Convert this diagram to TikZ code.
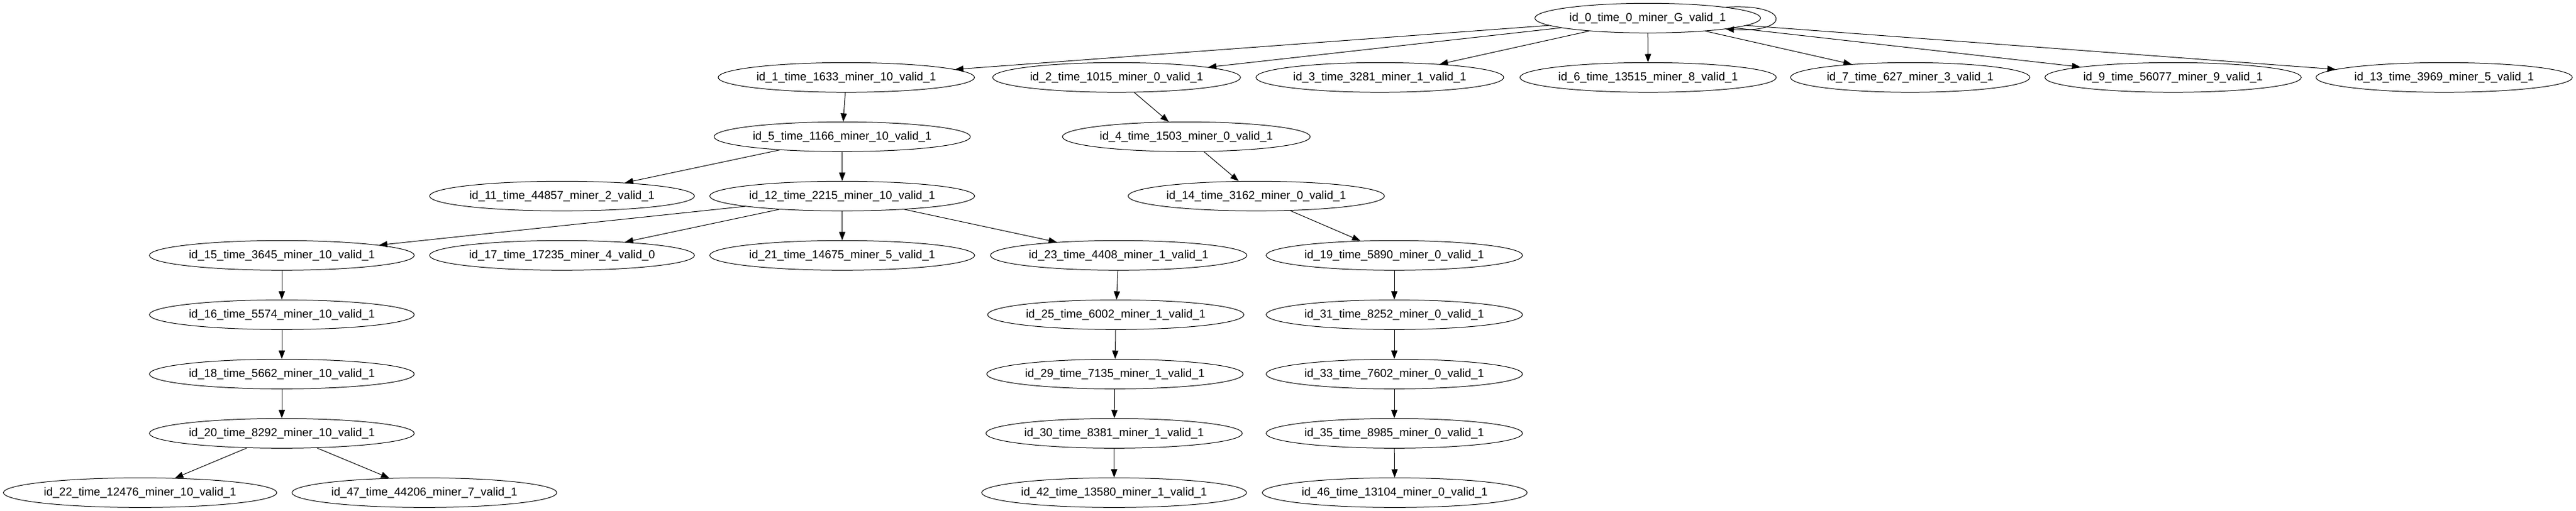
\documentclass[tikz,border=0pt]{standalone}
\usepackage{fontspec}
\setmainfont{Liberation Sans}
\usetikzlibrary{arrows.meta,shapes.geometric}
\tikzset{
  nd/.style={ellipse, draw, line width=0.75pt, inner sep=0pt, minimum height=36pt,
    font=\fontsize{14pt}{16pt}\selectfont},
  wg/.style={minimum width=273.8pt},
  w5/.style={minimum width=290.35pt},
  w6/.style={minimum width=300.7pt},
  w7/.style={minimum width=311.06pt},
  w8/.style={minimum width=321.4pt},
  w9/.style={minimum width=331.8pt},
  ed/.style={line width=0.75pt, -{Triangle[length=10pt,width=7.5pt]}}
}
\begin{document}
\begin{tikzpicture}
\fill[white] (0,0) rectangle (3126pt,620pt);
\useasboundingbox (0,0) rectangle (3126pt,620pt);
% row 0
\node[nd,wg] (n0) at (1999.5pt,598pt) {id\_0\_time\_0\_miner\_G\_valid\_1};
% row 1
\node[nd,w7] (n1) at (1027pt,526pt) {id\_1\_time\_1633\_miner\_10\_valid\_1};
\node[nd,w6] (n2) at (1355pt,526pt) {id\_2\_time\_1015\_miner\_0\_valid\_1};
\node[nd,w6] (n3) at (1674.4pt,526pt) {id\_3\_time\_3281\_miner\_1\_valid\_1};
\node[nd,w7] (n6) at (2000pt,526pt) {id\_6\_time\_13515\_miner\_8\_valid\_1};
\node[nd,w5] (n7) at (2318pt,526pt) {id\_7\_time\_627\_miner\_3\_valid\_1};
\node[nd,w7] (n9) at (2637pt,526pt) {id\_9\_time\_56077\_miner\_9\_valid\_1};
\node[nd,w7] (n13) at (2966pt,526pt) {id\_13\_time\_3969\_miner\_5\_valid\_1};
% row 2
\node[nd,w7] (n5) at (1022pt,454pt) {id\_5\_time\_1166\_miner\_10\_valid\_1};
\node[nd,w6] (n4) at (1439.6pt,454pt) {id\_4\_time\_1503\_miner\_0\_valid\_1};
% row 3
\node[nd,w8] (n11) at (682pt,382pt) {id\_11\_time\_44857\_miner\_2\_valid\_1};
\node[nd,w8] (n12) at (1022pt,382pt) {id\_12\_time\_2215\_miner\_10\_valid\_1};
\node[nd,w7] (n14) at (1524.5pt,382pt) {id\_14\_time\_3162\_miner\_0\_valid\_1};
% row 4
\node[nd,w8] (n15) at (342pt,310pt) {id\_15\_time\_3645\_miner\_10\_valid\_1};
\node[nd,w8] (n17) at (682pt,310pt) {id\_17\_time\_17235\_miner\_4\_valid\_0};
\node[nd,w8] (n21) at (1022pt,310pt) {id\_21\_time\_14675\_miner\_5\_valid\_1};
\node[nd,w7] (n23) at (1357.5pt,310pt) {id\_23\_time\_4408\_miner\_1\_valid\_1};
\node[nd,w7] (n19) at (1692pt,310pt) {id\_19\_time\_5890\_miner\_0\_valid\_1};
% row 5
\node[nd,w8] (n16) at (342pt,238pt) {id\_16\_time\_5574\_miner\_10\_valid\_1};
\node[nd,w7] (n25) at (1354pt,238pt) {id\_25\_time\_6002\_miner\_1\_valid\_1};
\node[nd,w7] (n31) at (1692pt,238pt) {id\_31\_time\_8252\_miner\_0\_valid\_1};
% row 6
\node[nd,w8] (n18) at (342pt,166pt) {id\_18\_time\_5662\_miner\_10\_valid\_1};
\node[nd,w7] (n29) at (1353pt,166pt) {id\_29\_time\_7135\_miner\_1\_valid\_1};
\node[nd,w7] (n33) at (1692pt,166pt) {id\_33\_time\_7602\_miner\_0\_valid\_1};
% row 7
\node[nd,w8] (n20) at (342pt,94pt) {id\_20\_time\_8292\_miner\_10\_valid\_1};
\node[nd,w7] (n30) at (1352pt,94pt) {id\_30\_time\_8381\_miner\_1\_valid\_1};
\node[nd,w7] (n35) at (1692pt,94pt) {id\_35\_time\_8985\_miner\_0\_valid\_1};
% row 8
\node[nd,w9] (n22) at (170pt,22pt) {id\_22\_time\_12476\_miner\_10\_valid\_1};
\node[nd,w8] (n47) at (515pt,22pt) {id\_47\_time\_44206\_miner\_7\_valid\_1};
\node[nd,w8] (n42) at (1352pt,22pt) {id\_42\_time\_13580\_miner\_1\_valid\_1};
\node[nd,w8] (n46) at (1692.5pt,22pt) {id\_46\_time\_13104\_miner\_0\_valid\_1};
% edges
\draw[ed] (n0.8) .. controls +(80pt,5pt) and +(80pt,-5pt) .. (n0.-8);
\foreach \c in {n1,n2,n3,n6,n7,n9,n13} \draw[ed] (n0) -- (\c);
\draw[ed] (n1) -- (n5);
\draw[ed] (n2) -- (n4);
\draw[ed] (n5) -- (n11);
\draw[ed] (n5) -- (n12);
\draw[ed] (n4) -- (n14);
\foreach \c in {n15,n17,n21,n23} \draw[ed] (n12) -- (\c);
\draw[ed] (n14) -- (n19);
\draw[ed] (n15) -- (n16);
\draw[ed] (n23) -- (n25);
\draw[ed] (n19) -- (n31);
\draw[ed] (n16) -- (n18);
\draw[ed] (n25) -- (n29);
\draw[ed] (n31) -- (n33);
\draw[ed] (n18) -- (n20);
\draw[ed] (n29) -- (n30);
\draw[ed] (n33) -- (n35);
\draw[ed] (n20) -- (n22);
\draw[ed] (n20) -- (n47);
\draw[ed] (n30) -- (n42);
\draw[ed] (n35) -- (n46);
\end{tikzpicture}
\end{document}
